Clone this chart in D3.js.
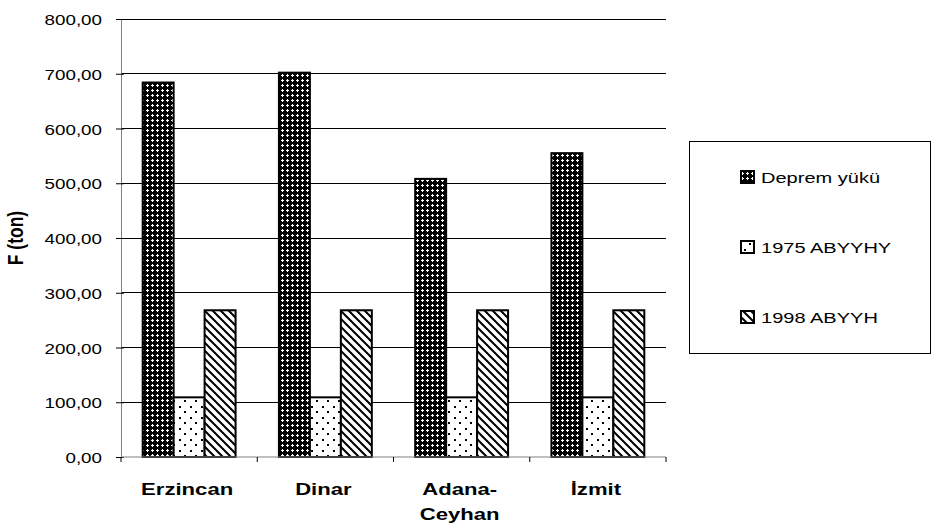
<!DOCTYPE html>
<html>
<head>
<meta charset="utf-8">
<script src="https://cdn.jsdelivr.net/npm/d3@7"></script>
<style>
  body { margin: 0; background: #fff; }
  text { font-family: "Liberation Sans", Arial, sans-serif; }
</style>
</head>
<body>
<div id="chart"></div>
<script>
// data
var cities = ["Erzincan", "Dinar", "Adana-Ceyhan", "İzmit"];
var seriesNames = ["Deprem yükü", "1975 ABYYHY", "1998 ABYYH"];
var deprem = [684, 702, 508, 555];
var abyyhy1975 = [109, 109, 109, 109];
var abyyh1998 = [268, 268, 268, 268];
var yTicks = [0, 100, 200, 300, 400, 500, 600, 700, 800];

var margin = {top: 19, right: 266, bottom: 72, left: 121},
    width = 932 - margin.left - margin.right,
    height = 529 - margin.top - margin.bottom;

// text in the reference is a bit wider than plain Arial
var stretch = 1.3;

var svg = d3.select("#chart")
    .append("svg")
    .attr("width", 932)
    .attr("height", 529);

// fill patterns
var defs = svg.append("defs");

var p1 = defs.append("pattern")
    .attr("id", "pat0")
    .attr("patternUnits", "userSpaceOnUse")
    .attr("width", 5).attr("height", 5);
p1.append("rect").attr("width", 5).attr("height", 5).attr("fill", "#000");
p1.append("path")
    .attr("d", "M1,0h1v1h1v1h-1v1h-1v-1h-1v-1h1z")
    .attr("fill", "#fff")
    .attr("shape-rendering", "crispEdges");

var p2 = defs.append("pattern")
    .attr("id", "pat1")
    .attr("patternUnits", "userSpaceOnUse")
    .attr("width", 11).attr("height", 11);
p2.append("rect").attr("width", 11).attr("height", 11).attr("fill", "#fff");
p2.append("rect").attr("x", 3).attr("y", 2).attr("width", 2).attr("height", 2).attr("fill", "#000");
p2.append("rect").attr("x", 8).attr("y", 7).attr("width", 2).attr("height", 2).attr("fill", "#000");

var p3 = defs.append("pattern")
    .attr("id", "pat2")
    .attr("patternUnits", "userSpaceOnUse")
    .attr("width", 8).attr("height", 8);
p3.append("rect").attr("width", 8).attr("height", 8).attr("fill", "#fff");
p3.append("path")
    .attr("d", "M-1,-1L9,9M-3,5L3,11M5,-3L11,3")
    .attr("stroke", "#000")
    .attr("stroke-width", 2);

var g = svg.append("g")
    .attr("transform", "translate(" + margin.left + "," + margin.top + ")");

var x0 = d3.scaleBand()
    .domain(cities)
    .range([0, width]);

var x1 = d3.scaleBand()
    .domain(seriesNames)
    .range([0, x0.bandwidth()])
    .paddingOuter(0.7)
    .paddingInner(0);

var y = d3.scaleLinear()
    .domain([0, 800])
    .range([height, 0]);

// gridlines
g.selectAll(".grid")
    .data(yTicks.filter(function(d) { return d > 0; }))
    .enter()
    .append("line")
    .attr("x1", 0)
    .attr("x2", width)
    .attr("y1", function(d) { return y(d); })
    .attr("y2", function(d) { return y(d); })
    .attr("stroke", "#000")
    .attr("stroke-width", 1)
    .attr("shape-rendering", "crispEdges");

// bars
var values = [deprem, abyyhy1975, abyyh1998];
var rows = [];
cities.forEach(function(c, i) {
    seriesNames.forEach(function(s, j) {
        rows.push({city: c, series: s, idx: j, value: values[j][i]});
    });
});

g.selectAll(".bar")
    .data(rows)
    .enter()
    .append("rect")
    .attr("x", function(d) { return x0(d.city) + x1(d.series); })
    .attr("y", function(d) { return y(d.value); })
    .attr("width", x1.bandwidth())
    .attr("height", function(d) { return height - y(d.value); })
    .attr("fill", function(d) { return "url(#pat" + d.idx + ")"; })
    .attr("stroke", "#000")
    .attr("stroke-width", 2);

// Y axis
var yAxis = g.append("g")
    .call(d3.axisLeft(y)
        .tickValues(yTicks)
        .tickSizeInner(5)
        .tickSizeOuter(0)
        .tickFormat(function(d) { return d.toFixed(2).replace(".", ","); }));
yAxis.select(".domain").attr("stroke", "#808080");
yAxis.selectAll(".tick line").attr("x2", 3).attr("x1", -5).attr("stroke", "#000");
yAxis.selectAll(".tick text")
    .attr("x", 0)
    .attr("dy", "0.36em")
    .attr("transform", "translate(-19,0) scale(1.22,1)")
    .style("font-size", "15.4px")
    .style("font-family", "Liberation Sans, Arial, sans-serif")
    .attr("fill", "#000");

// X axis
var xAxis = g.append("g")
    .attr("transform", "translate(0," + height + ")");
xAxis.append("line")
    .attr("x1", 0).attr("x2", width)
    .attr("stroke", "#808080");
xAxis.selectAll(".xtick")
    .data(cities.concat(["end"]))
    .enter()
    .append("line")
    .attr("x1", function(d, i) { return i * x0.bandwidth(); })
    .attr("x2", function(d, i) { return i * x0.bandwidth(); })
    .attr("y1", 0).attr("y2", 5)
    .attr("stroke", "#000");

xAxis.selectAll(".xlabel")
    .data(cities)
    .enter()
    .append("text")
    .attr("transform", function(d) {
        return "translate(" + (x0(d) + x0.bandwidth() / 2 - 2) + ",38) scale(" + stretch + ",1)";
    })
    .attr("text-anchor", "middle")
    .style("font-size", "17px")
    .style("font-weight", "bold")
    .each(function(d) {
        var parts = d === "Adana-Ceyhan" ? ["Adana-", "Ceyhan"] : [d];
        var t = d3.select(this);
        parts.forEach(function(p, k) {
            t.append("tspan")
                .attr("x", 0)
                .attr("dy", k === 0 ? 0 : 25)
                .text(p);
        });
    });

// Y axis label
svg.append("text")
    .attr("transform", "translate(23," + (margin.top + height / 2) + ") rotate(-90) scale(1,1.3)")
    .attr("text-anchor", "middle")
    .style("font-size", "17.5px")
    .style("font-weight", "bold")
    .text("F (ton)");

// Legend
var legend = svg.append("g");
legend.append("rect")
    .attr("x", 689.5).attr("y", 141.5)
    .attr("width", 241).attr("height", 212)
    .attr("fill", "#fff")
    .attr("stroke", "#000")
    .attr("stroke-width", 1);

var items = legend.selectAll(".item")
    .data(seriesNames)
    .enter()
    .append("g")
    .attr("transform", function(d, i) { return "translate(741," + (177 + i * 70) + ")"; });
items.append("rect")
    .attr("x", 0).attr("y", -6)
    .attr("width", 13).attr("height", 12)
    .attr("fill", function(d, i) { return "url(#pat" + i + ")"; })
    .attr("stroke", "#000")
    .attr("stroke-width", 2);
items.append("text")
    .attr("transform", "translate(20,6) scale(" + stretch + ",1)")
    .style("font-size", "15.4px")
    .text(function(d) { return d; });
</script>
</body>
</html>
